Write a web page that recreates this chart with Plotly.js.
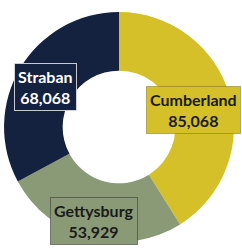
<!DOCTYPE html>
<html><head><meta charset="utf-8">
<script src="https://cdn.plot.ly/plotly-3.0.1.min.js"></script>
<style>html,body{margin:0;padding:0;background:#fff}#c{width:242px;height:251px}</style>
</head><body><div id="c"></div>
<script>
const categories = ["Cumberland", "Gettysburg", "Straban"];
const values = [85068, 53929, 68068];
const colors = ["#D5C02A", "#8A9A77", "#14223F"];
const textColors = ["#1a1a1a", "#1a1a1a", "#ffffff"];
const labelPos = [[0.8, 0.56], [0.39, 0.12], [0.186, 0.655]];
const borderColors = ["rgba(120,110,40,0.5)", "rgba(60,60,60,0.6)", "rgba(220,220,220,0.9)"];

const fmt = v => v.toLocaleString("en-US");
const annotations = categories.map((c, i) => ({
  xref:"paper", yref:"paper", x:labelPos[i][0], y:labelPos[i][1], xanchor:"center", yanchor:"middle",
  text:"<b>" + c + "</b><br><b>" + fmt(values[i]) + "</b>", showarrow:false,
  font:{family:"Lato, Open Sans, sans-serif", size:16, color:textColors[i]},
  bgcolor:colors[i], bordercolor:borderColors[i], borderwidth:1, borderpad:3
}));

Plotly.newPlot("c", [{
  type:"pie", labels:categories, values:values, hole:0.49, sort:false, direction:"clockwise", rotation:0,
  marker:{colors:colors, line:{width:0}}, textinfo:"none", hoverinfo:"none",
  domain:{x:[0.0165,0.967], y:[0.036,0.952]}
}], {
  width:242, height:251, margin:{l:0,r:0,t:0,b:0}, showlegend:false,
  paper_bgcolor:"#ffffff", annotations:annotations
}, {displayModeBar:false, staticPlot:true});
</script></body></html>
